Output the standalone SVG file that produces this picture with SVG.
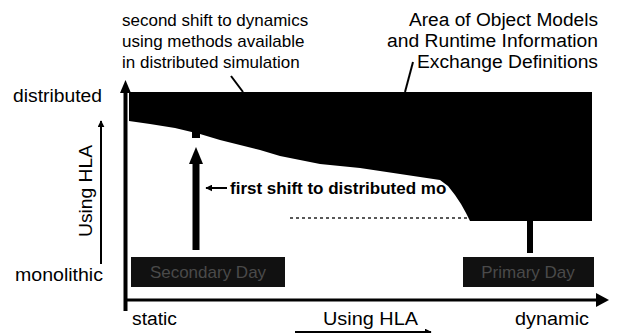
<svg xmlns="http://www.w3.org/2000/svg" width="618" height="333" viewBox="0 0 618 333">
<style>
.t{font-family:"Liberation Sans",Arial,sans-serif;font-size:17px;fill:#000}
.l{font-size:18px}
.b{font-weight:bold}
.box{fill:#111}
.bt{font-family:"Liberation Sans",Arial,sans-serif;font-size:17px;fill:#4a4a4a}
.ax{stroke:#000;fill:none}
</style>
<defs>
<marker id="ah" viewBox="0 0 10 10" refX="9" refY="5" markerWidth="7" markerHeight="7" orient="auto" markerUnits="userSpaceOnUse">
<path d="M0,0 L10,5 L0,10 Z" fill="#000"/>
</marker>
</defs>
<rect width="618" height="333" fill="#fff"/>

<g id="area">
<path d="M129,92 H592 V221 H470 L466,213 L461,204 L455,195 L448,186 L440,180 L420,177 L400,174 L380,171 L360,168 L340,166 L320,164 L300,160 L280,156 L260,150 L240,145 L220,140 L200,134 L175,128 L150,124 L129,121 Z" fill="#000"/>
<line x1="290" y1="218" x2="468" y2="218" stroke="#222" stroke-width="1.5" stroke-dasharray="3 3"/>
</g>

<g id="axes">
<line class="ax" x1="125.5" y1="311" x2="125.5" y2="90" stroke-width="4"/>
<path d="M120,93 L125.5,80 L131,93 Z" fill="#000"/>
<line class="ax" x1="124" y1="300" x2="597" y2="300" stroke-width="3"/>
<path d="M596,293 L609,300 L596,307 Z" fill="#000"/>
</g>

<g id="label-top-left">
<text class="t" x="122" y="26">second shift to dynamics</text>
<text class="t" x="122" y="47">using methods available</text>
<text class="t" x="122" y="68">in distributed simulation</text>
</g>
<g id="label-top-right">
<text class="t l" x="409" y="26" textLength="189" lengthAdjust="spacingAndGlyphs">Area of Object Models</text>
<text class="t l" x="387" y="47" textLength="211" lengthAdjust="spacingAndGlyphs">and Runtime Information</text>
<text class="t l" x="417" y="68" textLength="181" lengthAdjust="spacingAndGlyphs">Exchange Definitions</text>
</g>
<g id="label-axes">
<text class="t l" x="13" y="102" textLength="89" lengthAdjust="spacingAndGlyphs">distributed</text>
<text class="t l" x="15" y="281" textLength="88" lengthAdjust="spacingAndGlyphs">monolithic</text>
<text class="t l" x="132" y="325" textLength="45" lengthAdjust="spacingAndGlyphs">static</text>
<text class="t l" x="323" y="325" textLength="95" lengthAdjust="spacingAndGlyphs">Using HLA</text>
<text class="t l" x="515" y="325" textLength="74" lengthAdjust="spacingAndGlyphs">dynamic</text>
<text class="t l" x="-46" y="0" textLength="92" lengthAdjust="spacingAndGlyphs" transform="translate(92,191) rotate(-90)">Using HLA</text>
</g>

<g id="connectors">
<line x1="101" y1="264" x2="101" y2="121" stroke="#000" stroke-width="2" marker-end="url(#ah)"/>
<line x1="295" y1="332" x2="431" y2="332" stroke="#000" stroke-width="2" marker-end="url(#ah)"/>
<line x1="231" y1="76" x2="243" y2="92" stroke="#000" stroke-width="2"/>
<line x1="413" y1="62" x2="405" y2="92" stroke="#000" stroke-width="2"/>
<line x1="196" y1="250" x2="196" y2="160" stroke="#000" stroke-width="7"/>
<path d="M189,164 L196,147 L203,164 Z" fill="#000"/>
<rect x="192" y="100" width="8" height="38" fill="#000"/>
<rect x="527" y="215" width="6" height="38" fill="#000"/>
<line x1="227" y1="188" x2="206" y2="188" stroke="#000" stroke-width="2" marker-end="url(#ah)"/>
</g>

<g id="first-shift-label">
<text class="t b" x="230" y="194">first shift to distributed mo</text>
</g>

<g id="secondary-day">
<rect class="box" x="131" y="257" width="154" height="30"/>
<text class="bt" x="208" y="278" text-anchor="middle">Secondary Day</text>
</g>
<g id="primary-day">
<rect class="box" x="463" y="257" width="131" height="30"/>
<text class="bt" x="528" y="278" text-anchor="middle">Primary Day</text>
</g>
</svg>
